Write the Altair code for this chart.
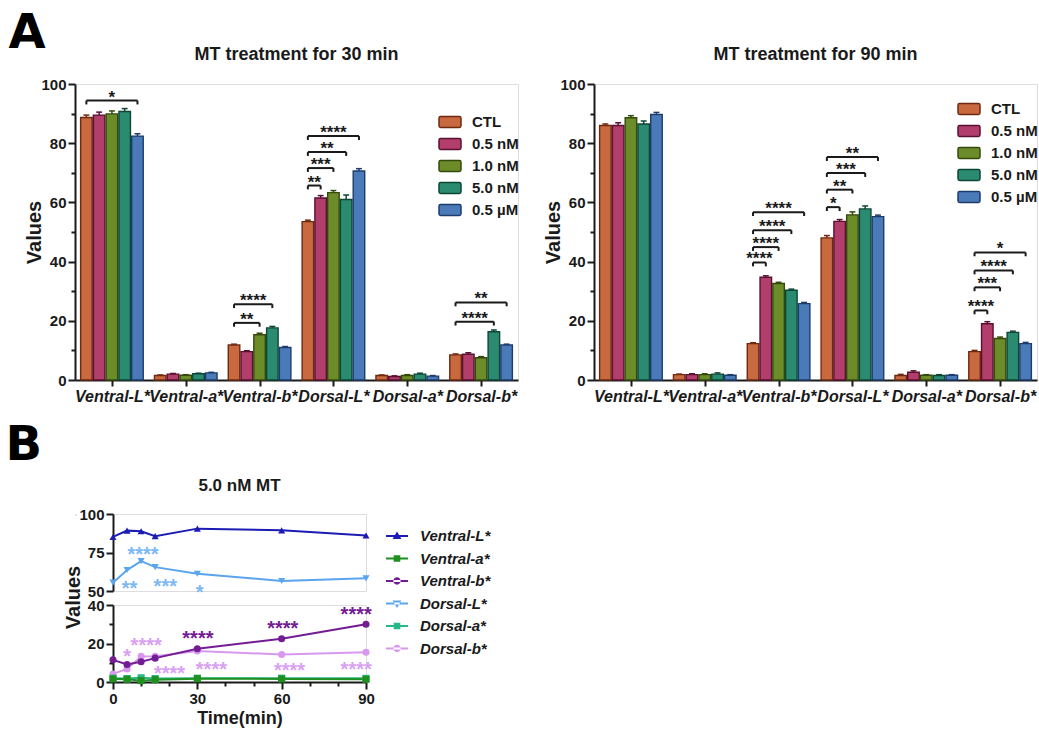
import json
import pandas as pd
import altair as alt

FONT = "Liberation Sans"
LETTER_FONT = "DejaVu Sans"
INK = "#1a1a1a"

# ---------------- data : panel A ----------------
groups = ["Ventral-L*", "Ventral-a*", "Ventral-b*", "Dorsal-L*", "Dorsal-a*", "Dorsal-b*"]
doses = ["CTL", "0.5 nM", "1.0 nM", "5.0 nM", "0.5 µM"]

# 30 min : means per dose (over groups)
m30_ctl = [88.7, 1.5, 11.8, 53.5, 1.5, 8.5]
m30_05n = [89.5, 2.0, 9.6, 61.5, 1.2, 8.7]
m30_10n = [89.9, 1.6, 15.3, 63.3, 1.5, 7.5]
m30_50n = [90.7, 2.1, 17.6, 61.0, 2.0, 16.3]
m30_05u = [82.4, 2.4, 11.0, 70.6, 1.3, 11.8]
e30_ctl = [0.8, 0.2, 0.3, 0.5, 0.2, 0.3]
e30_05n = [1.0, 0.2, 0.3, 0.8, 0.2, 0.5]
e30_10n = [1.0, 0.2, 0.5, 0.7, 0.3, 0.4]
e30_50n = [1.0, 0.2, 0.5, 1.5, 0.3, 0.6]
e30_05u = [0.8, 0.2, 0.3, 0.8, 0.2, 0.3]

# 90 min
m90_ctl = [86.0, 1.8, 12.3, 48.0, 1.5, 9.6]
m90_05n = [86.0, 1.8, 34.7, 53.6, 2.6, 19.0]
m90_10n = [88.6, 1.8, 32.6, 55.8, 1.6, 14.0]
m90_50n = [86.5, 2.0, 30.3, 57.8, 1.5, 16.1]
m90_05u = [89.7, 1.6, 25.8, 55.2, 1.6, 12.3]
e90_ctl = [0.5, 0.2, 0.3, 0.8, 0.4, 0.4]
e90_05n = [0.9, 0.3, 0.5, 0.6, 0.5, 0.7]
e90_10n = [0.7, 0.3, 0.4, 1.0, 0.2, 0.5]
e90_50n = [1.0, 0.4, 0.4, 1.0, 0.3, 0.4]
e90_05u = [0.7, 0.2, 0.4, 0.5, 0.2, 0.4]

# significance brackets (CTL -> target dose)
br30_group = ["Ventral-L*", "Ventral-b*", "Ventral-b*", "Dorsal-L*", "Dorsal-L*",
              "Dorsal-L*", "Dorsal-L*", "Dorsal-b*", "Dorsal-b*"]
br30_to = ["0.5 µM", "1.0 nM", "5.0 nM", "0.5 nM", "1.0 nM", "5.0 nM", "0.5 µM",
           "5.0 nM", "0.5 µM"]
br30_y = [94.4, 19.3, 25.6, 65.7, 71.6, 77.0, 82.4, 19.7, 26.2]
br30_lab = ["*", "**", "****", "**", "***", "**", "****", "****", "**"]

br90_group = ["Ventral-b*"] * 4 + ["Dorsal-L*"] * 4 + ["Dorsal-b*"] * 4
br90_to = ["0.5 nM", "1.0 nM", "5.0 nM", "0.5 µM"] * 3
br90_y = [39.7, 44.9, 50.6, 56.7, 58.4, 64.3, 69.9, 75.3, 23.5, 31.3, 37.0, 43.1]
br90_lab = ["****", "****", "****", "****", "*", "**", "***", "**",
            "****", "***", "****", "*"]

# ---------------- data : panel B ----------------
series = ["Ventral-L*", "Ventral-a*", "Ventral-b*", "Dorsal-L*", "Dorsal-a*", "Dorsal-b*"]
time_min = [0, 5, 10, 15, 30, 60, 90]
ventral_L = [85.1, 89.2, 88.8, 85.6, 90.5, 89.4, 86.0]
ventral_a = [1.6, 1.4, 0.7, 1.2, 1.7, 1.6, 1.4]
ventral_b = [11.5, 9.1, 10.5, 12.4, 17.3, 22.5, 30.0]
dorsal_L = [55.4, 63.6, 69.4, 65.5, 61.2, 56.5, 58.2]
dorsal_a = [2.0, 1.8, 2.2, 1.8, 2.0, 2.0, 1.9]
dorsal_b = [4.2, 6.8, 13.3, 13.4, 16.1, 14.3, 15.5]

sigL_t = [10.7, 5.9, 18.6, 30.8]
sigL_v = [76.9, 54.7, 55.8, 52.2]
sigL_lab = ["****", "**", "***", "*"]
sigVb_t = [30.2, 60.4, 86.5]
sigVb_v = [24.8, 30.0, 37.6]
sigVb_lab = ["****", "****", "****"]
sigDb_t = [5.0, 11.8, 20.1, 35.0, 62.8, 86.5]
sigDb_v = [15.7, 21.3, 6.5, 8.6, 8.2, 8.6]
sigDb_lab = ["*", "****", "****", "****", "****", "****"]

# ---------------- styles ----------------
bar_fill = ["#C8693F", "#B23E6C", "#6C8C2A", "#2B8B70", "#4B7AB9"]
bar_edge = ["#6E2A10", "#5A1030", "#344A0C", "#0E4636", "#1C3C6C"]
line_col = ["#1C1CB4", "#1F8F1F", "#741C94", "#5AA5EE", "#26B886", "#D898F0"]
marker = ["triangle-up", "square", "circle", "triangle-down", "square", "circle"]
BAR = "M-1,-0.09L1,-0.09L1,0.09L-1,0.09Z "
legend_marker = [
    BAR + "M0,-0.42L0.4,0.28L-0.4,0.28Z",
    BAR + "M-0.3,-0.3L0.3,-0.3L0.3,0.3L-0.3,0.3Z",
    BAR + "M-0.33,0A0.33,0.33 0 1,0 0.33,0A0.33,0.33 0 1,0 -0.33,0Z",
    BAR + "M0,0.42L0.4,-0.28L-0.4,-0.28Z",
    BAR + "M-0.3,-0.3L0.3,-0.3L0.3,0.3L-0.3,0.3Z",
    BAR + "M-0.33,0A0.33,0.33 0 1,0 0.33,0A0.33,0.33 0 1,0 -0.33,0Z",
]
RRECT = ("M-0.85,-0.5L0.85,-0.5Q1,-0.5 1,-0.35L1,0.35Q1,0.5 0.85,0.5L-0.85,0.5"
         "Q-1,0.5 -1,0.35L-1,-0.35Q-1,-0.5 -0.85,-0.5Z")
STEP = 0.173
HALF = 0.078
PW = 443  # bar panel plot width


def cond_tick(mod, big, small):
    return {"condition": {"test": f"datum.value % {mod} === 0", "value": big}, "value": small}


def every_label(mod):
    return f"datum.value % {mod} === 0 ? datum.label : ''"


def bar_panel(title, means, errs, bg, bt, by, bl, legend_y):
    rows = []
    for di, d in enumerate(doses):
        for gi, g in enumerate(groups):
            rows.append({"group": g, "dose": d, "gi": gi, "di": di,
                         "mean": means[di][gi], "err": errs[di][gi]})
    df = pd.DataFrame(rows)
    xs = alt.Scale(domain=[-0.5, 5.5], nice=False, zero=False)
    ys = alt.Scale(domain=[0, 100], nice=False)
    x_axis = alt.Axis(values=list(range(6)),
                      labelExpr=json.dumps(groups) + "[datum.value]",
                      labelFontSize=16, labelFontWeight="bold", labelFontStyle="italic",
                      labelColor=INK, labelOverlap=False, labelFlush=False, labelPadding=2,
                      tickSize=6, tickWidth=2, tickColor=INK, domainColor=INK,
                      domainWidth=2, grid=False)
    y_axis = alt.Axis(values=list(range(0, 101, 10)), labelExpr=every_label(20),
                      tickSize=cond_tick(20, 7, 4), tickWidth=2, tickColor=INK,
                      domainColor=INK, domainWidth=2, labelFontSize=15,
                      labelFontWeight="bold", labelColor=INK, labelPadding=2,
                      labelOverlap=False,
                      titleFontSize=20, titleFontWeight="bold", titleColor=INK,
                      titleX=-31, grid=False)
    leg = alt.Legend(orient="none", legendX=363, legendY=legend_y, symbolType=RRECT,
                     symbolSize=484, symbolStrokeWidth=1.5, labelFontSize=15,
                     labelFontWeight="bold", labelColor=INK, labelOffset=10,
                     rowPadding=1, padding=0, title=None)
    base = (alt.Chart(df)
            .transform_calculate(xc=f"datum.gi + (datum.di - 2) * {STEP}")
            .transform_calculate(x0=f"datum.xc - {HALF}", x1=f"datum.xc + {HALF}",
                                 top="datum.mean + datum.err",
                                 c0="datum.xc - 0.04", c1="datum.xc + 0.04"))
    bars = base.mark_bar(strokeWidth=1.4).encode(
        x=alt.X("x0:Q", scale=xs, axis=x_axis, title=None),
        x2="x1:Q",
        y=alt.Y("mean:Q", scale=ys, axis=y_axis, title="Values"),
        y2=alt.datum(0),
        fill=alt.Fill("dose:N", scale=alt.Scale(domain=doses, range=bar_fill), legend=leg, title=None),
        stroke=alt.Stroke("dose:N", scale=alt.Scale(domain=doses, range=bar_edge), legend=leg, title=None),
    )
    ecol = alt.Color("dose:N", scale=alt.Scale(domain=doses, range=bar_edge), legend=None)
    err_rule = base.mark_rule(strokeWidth=1.5).encode(
        x=alt.X("xc:Q", axis=x_axis, title=None), y=alt.Y("mean:Q", axis=y_axis, title="Values"),
        y2="top:Q", color=ecol)
    caps = base.mark_rule(strokeWidth=1.5).encode(
        x=alt.X("c0:Q", axis=x_axis, title=None), x2="c1:Q",
        y=alt.Y("top:Q", axis=y_axis, title="Values"), color=ecol)

    bdf = pd.DataFrame({"gi": [groups.index(g) for g in bg],
                        "ti": [doses.index(t) for t in bt],
                        "y": by, "label": bl})
    bbase = (alt.Chart(bdf)
             .transform_calculate(xs=f"datum.gi - 2 * {STEP}",
                                  xe=f"datum.gi + (datum.ti - 2) * {STEP}",
                                  ylo="datum.y - 1.3")
             .transform_calculate(xm="(datum.xs + datum.xe) / 2"))
    hline = bbase.mark_rule(strokeWidth=2, color=INK).encode(
        x=alt.X("xs:Q", axis=x_axis, title=None), x2="xe:Q",
        y=alt.Y("y:Q", axis=y_axis, title="Values"))
    lleg = bbase.mark_rule(strokeWidth=2, color=INK).encode(
        x=alt.X("xs:Q", axis=x_axis, title=None),
        y=alt.Y("ylo:Q", axis=y_axis, title="Values"), y2="y:Q")
    rleg = bbase.mark_rule(strokeWidth=2, color=INK).encode(
        x=alt.X("xe:Q", axis=x_axis, title=None),
        y=alt.Y("ylo:Q", axis=y_axis, title="Values"), y2="y:Q")
    stars = bbase.mark_text(fontSize=17, fontWeight="bold", color=INK,
                            baseline="alphabetic", dy=2).encode(
        x=alt.X("xm:Q", axis=x_axis, title=None),
        y=alt.Y("y:Q", axis=y_axis, title="Values"), text="label:N")

    return alt.layer(bars, err_rule, caps, hline, lleg, rleg, stars).properties(
        width=PW, height=296,
        title=alt.TitleParams(title, fontSize=18, fontWeight="bold", color=INK,
                              baseline="alphabetic", offset=-1))


left = bar_panel("MT treatment for 30 min",
                 [m30_ctl, m30_05n, m30_10n, m30_50n, m30_05u],
                 [e30_ctl, e30_05n, e30_10n, e30_50n, e30_05u],
                 br30_group, br30_to, br30_y, br30_lab, legend_y=26)
right = bar_panel("MT treatment for 90 min",
                  [m90_ctl, m90_05n, m90_10n, m90_50n, m90_05u],
                  [e90_ctl, e90_05n, e90_10n, e90_50n, e90_05u],
                  br90_group, br90_to, br90_y, br90_lab, legend_y=13)

row1 = alt.hconcat(left, right, spacing=76, bounds="flush").resolve_scale(
    x="independent", y="independent", fill="independent", stroke="independent",
    color="independent").properties(
    title=alt.TitleParams("A", font=LETTER_FONT, fontSize=48, fontWeight="bold",
                          color="#000", anchor="start", frame="bounds",
                          baseline="alphabetic", offset=-50, dx=-15))

# ---------------- panel B ----------------
series_vals = [ventral_L, ventral_a, ventral_b, dorsal_L, dorsal_a, dorsal_b]
rowsB = []
for s, vals in zip(series, series_vals):
    for t, v in zip(time_min, vals):
        rowsB.append({"series": s, "time": t, "value": v})
dfB = pd.DataFrame(rowsB)
top_series = ["Ventral-L*", "Dorsal-L*"]
bot_order = ["Dorsal-b*", "Ventral-b*", "Dorsal-a*", "Ventral-a*"]
df_top = dfB[dfB.series.isin(top_series)]
df_bot = pd.concat([dfB[dfB.series == s] for s in bot_order])

cscale = alt.Scale(domain=series, range=line_col)
sscale = alt.Scale(domain=series, range=marker)
xsB = alt.Scale(domain=[0, 90], nice=False, zero=False)

common_y = dict(domainColor=INK, domainWidth=2, tickColor=INK, tickWidth=2,
                labelFontSize=15, labelFontWeight="bold", labelColor=INK,
                labelPadding=2, labelOverlap=False, grid=False)

top_y_axis = alt.Axis(values=[50, 75, 100], tickSize=7, title=None, **common_y)
bot_y_axis = alt.Axis(values=[0, 10, 20, 30, 40], labelExpr=every_label(20),
                      tickSize=cond_tick(20, 7, 4), titleFontSize=20,
                      titleFontWeight="bold", titleColor=INK, titleY=-8,
                      titleX=-30, **common_y)
bot_x_axis = alt.Axis(values=list(range(0, 91, 10)), labelExpr=every_label(30),
                      tickSize=cond_tick(30, 7, 4), domainColor=INK, domainWidth=2,
                      tickColor=INK, tickWidth=2, labelFontSize=15,
                      labelFontWeight="bold", labelColor=INK, labelPadding=2,
                      labelOverlap=False, labelFlush=False, titleFontSize=18,
                      titleFontWeight="bold", titleColor=INK, titlePadding=3,
                      grid=False)

legB = alt.Legend(orient="none", legendX=273, legendY=11, symbolSize=484,
                  symbolOpacity=1, symbolStrokeWidth=0, labelFontSize=15,
                  labelFontWeight="bold", labelFontStyle="italic", labelColor=INK,
                  labelOffset=12, rowPadding=3.5, padding=0, title=None)


def star_layer(ts, vs, labs, color, y_scale, x_axis, y_axis, xtitle, ytitle):
    d = pd.DataFrame({"t": ts, "v": vs, "lab": labs})
    return alt.Chart(d).mark_text(fontSize=20, fontWeight="bold", color=color,
                                  baseline="middle", dy=5).encode(
        x=alt.X("t:Q", scale=xsB, axis=x_axis, title=xtitle),
        y=alt.Y("v:Q", scale=y_scale, axis=y_axis, title=ytitle),
        text="lab:N")


ys_top = alt.Scale(domain=[50, 100], nice=False, zero=False)
line_top = alt.Chart(df_top).mark_line(strokeWidth=2).encode(
    x=alt.X("time:Q", scale=xsB, axis=None),
    y=alt.Y("value:Q", scale=ys_top, axis=top_y_axis, title=None),
    color=alt.Color("series:N", scale=cscale, legend=None))
pts_top = alt.Chart(df_top).mark_point(filled=True, size=50, opacity=1).encode(
    x=alt.X("time:Q", scale=xsB, axis=None),
    y=alt.Y("value:Q", scale=ys_top, axis=top_y_axis, title=None),
    color=alt.Color("series:N", scale=cscale, legend=None),
    shape=alt.Shape("series:N", scale=sscale, legend=None))
legend_layer = alt.Chart(pd.DataFrame({"series": series})).mark_point(
    filled=True, opacity=0).encode(
    x=alt.value(0), y=alt.value(0),
    color=alt.Color("series:N", scale=cscale, legend=legB),
    shape=alt.Shape("series:N", scale=alt.Scale(domain=series, range=legend_marker),
                    legend=legB))

top_seg = alt.layer(
    line_top, pts_top,
    star_layer(sigL_t, sigL_v, sigL_lab, "#7DB8F0", ys_top, None, top_y_axis, None, None),
    legend_layer
).resolve_scale(color="independent", shape="independent").properties(
    width=253, height=77,
    title=alt.TitleParams("5.0 nM MT", fontSize=17, fontWeight="bold", color=INK,
                          baseline="alphabetic", offset=-1))

ys_bot = alt.Scale(domain=[0, 40], nice=False, zero=True)
line_bot = alt.Chart(df_bot).mark_line(strokeWidth=2).encode(
    x=alt.X("time:Q", scale=xsB, axis=bot_x_axis, title="Time(min)"),
    y=alt.Y("value:Q", scale=ys_bot, axis=bot_y_axis, title="Values"),
    color=alt.Color("series:N", scale=cscale, legend=None))
pts_bot = alt.Chart(df_bot).mark_point(filled=True, size=50, opacity=1).encode(
    x=alt.X("time:Q", scale=xsB, axis=bot_x_axis, title="Time(min)"),
    y=alt.Y("value:Q", scale=ys_bot, axis=bot_y_axis, title="Values"),
    color=alt.Color("series:N", scale=cscale, legend=None),
    shape=alt.Shape("series:N", scale=sscale, legend=None))
bot_seg = alt.layer(
    line_bot, pts_bot,
    star_layer(sigVb_t, sigVb_v, sigVb_lab, "#741C94", ys_bot, bot_x_axis, bot_y_axis,
               "Time(min)", "Values"),
    star_layer(sigDb_t, sigDb_v, sigDb_lab, "#D9A0F2", ys_bot, bot_x_axis, bot_y_axis,
               "Time(min)", "Values"),
).properties(width=253, height=77)

segs = alt.vconcat(top_seg, bot_seg, spacing=14, bounds="flush").resolve_scale(
    x="independent", y="independent", color="independent", shape="independent")

spacer = alt.Chart(pd.DataFrame({"a": [0]})).mark_point(opacity=0).encode(
    x=alt.value(0), y=alt.value(0)).properties(width=1, height=1)

row2 = alt.hconcat(spacer, segs, spacing=37, bounds="flush").resolve_scale(
    x="independent", y="independent", color="independent", shape="independent"
).properties(
    title=alt.TitleParams("B", font=LETTER_FONT, fontSize=48, fontWeight="bold",
                          color="#000", anchor="start", frame="bounds",
                          baseline="alphabetic", offset=-31, dx=-57))

chart = alt.vconcat(row1, row2, spacing=16).resolve_scale(
    x="independent", y="independent", color="independent", shape="independent",
    fill="independent", stroke="independent").properties(
    padding={"left": 5, "top": 9, "right": 0, "bottom": 0},
    background="white"
).configure_view(stroke=None).configure(font=FONT)

chart.save("out.html", embed_options={"renderer": "svg", "actions": False})
